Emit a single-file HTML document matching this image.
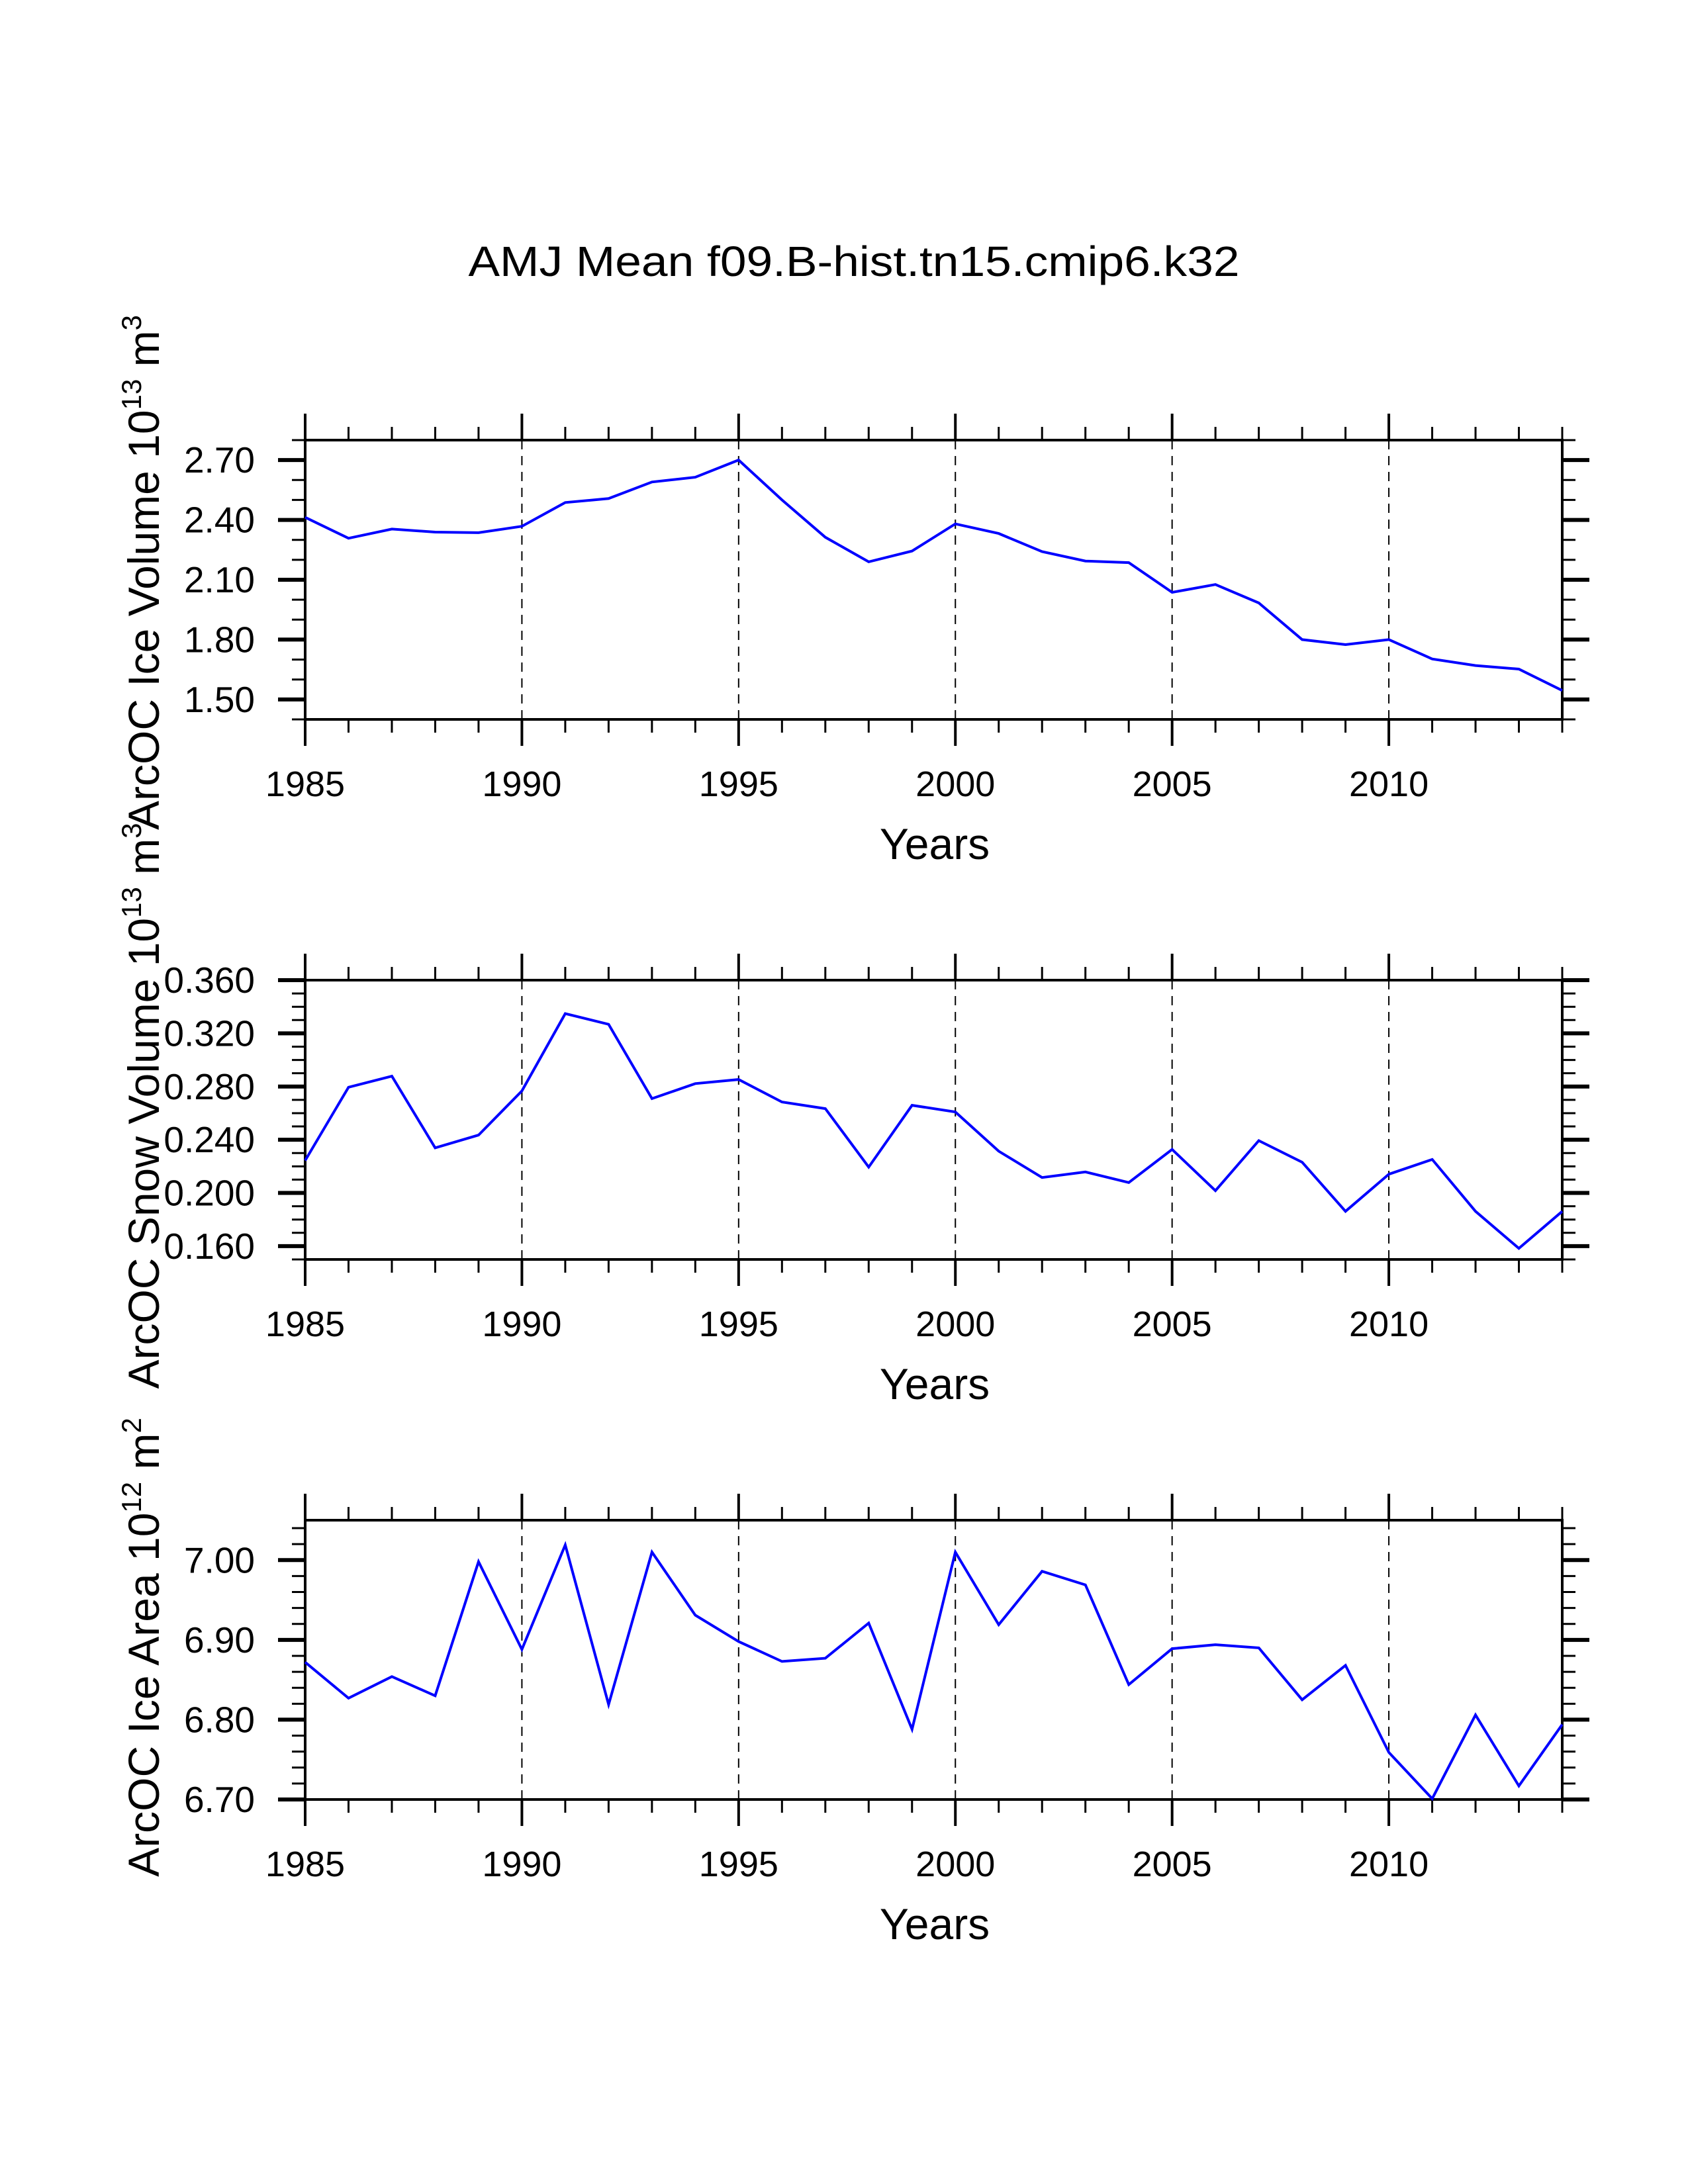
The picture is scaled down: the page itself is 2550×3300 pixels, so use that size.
<!DOCTYPE html>
<html><head><meta charset="utf-8"><style>
html,body{margin:0;padding:0;background:#fff;}
svg{display:block;}
text{font-family:"Liberation Sans",Arial,sans-serif;fill:#000;}
</style></head><body>
<svg id="chart" width="2550" height="3300" viewBox="0 0 2550 3300" xmlns="http://www.w3.org/2000/svg">
<rect width="2550" height="3300" fill="#fff"/>
<text x="1290" y="417" font-size="64" text-anchor="middle" textLength="1165" lengthAdjust="spacingAndGlyphs">AMJ Mean f09.B-hist.tn15.cmip6.k32</text>
</svg>
<script>
const years = [1985,1986,1987,1988,1989,1990,1991,1992,1993,1994,1995,1996,1997,1998,1999,2000,2001,2002,2003,2004,2005,2006,2007,2008,2009,2010,2011,2012,2013,2014];
const iceVolume = [2.413,2.308,2.354,2.339,2.336,2.368,2.487,2.507,2.590,2.614,2.700,2.500,2.313,2.190,2.244,2.380,2.332,2.241,2.194,2.186,2.037,2.076,1.984,1.800,1.775,1.800,1.703,1.670,1.652,1.545];
const snowVolume = [0.2244,0.2795,0.2878,0.2339,0.2435,0.2767,0.3348,0.3268,0.2709,0.2822,0.2853,0.2684,0.2634,0.2194,0.2659,0.2609,0.2314,0.2116,0.2158,0.2078,0.2327,0.2017,0.2393,0.2231,0.1862,0.2141,0.2252,0.1862,0.1583,0.1862];
const iceArea = [6.872,6.827,6.854,6.830,6.998,6.888,7.019,6.819,7.010,6.931,6.898,6.873,6.877,6.921,6.788,7.010,6.919,6.986,6.969,6.844,6.889,6.894,6.890,6.825,6.868,6.759,6.701,6.806,6.717,6.794];
const xTickLabels = ["1985","1990","1995","2000","2005","2010"];
const iceVolumeTicks = ["1.50","1.80","2.10","2.40","2.70"];
const snowVolumeTicks = ["0.160","0.200","0.240","0.280","0.320","0.360"];
const iceAreaTicks = ["6.70","6.80","6.90","7.00"];

const NS = "http://www.w3.org/2000/svg";
const svg = document.getElementById("chart");
const X0 = 461, X1 = 2360, PH = 422;
function mk(tag, attrs, parent){
  const e = document.createElementNS(NS, tag);
  for (const k in attrs) e.setAttribute(k, attrs[k]);
  (parent||svg).appendChild(e);
  return e;
}
const xScale = y => X0 + (y - 1985) / (2014 - 1985) * (X1 - X0);

function panel(name, top, vmin, vmax, minorStep, ticks, values, titleParts, titleCy){
  const g = mk("g", {});
  
  
  const bot = top + PH;
  const yScale = v => bot - (v - vmin) / (vmax - vmin) * PH;
  for (let yr = 1990; yr <= 2010; yr += 5) {
    const l = mk("line", {x1:xScale(yr), x2:xScale(yr), y1:top, y2:bot, stroke:"#000", "stroke-width":2, "stroke-dasharray":"14 10"}, g);
    
    
  }
  for (let yr = 1985; yr <= 2014; yr++) {
    const len = (yr % 5 === 0) ? 40 : 20;
    const w = (yr % 5 === 0) ? 4 : 3;
    mk("line", {x1:xScale(yr), x2:xScale(yr), y1:bot, y2:bot+len, stroke:"#000", "stroke-width":w}, g);
    mk("line", {x1:xScale(yr), x2:xScale(yr), y1:top, y2:top-len, stroke:"#000", "stroke-width":w}, g);
  }
  xTickLabels.forEach(s => {
    const t = mk("text", {x:xScale(+s), y:bot+116, "font-size":54, "text-anchor":"middle"}, g);
    t.textContent = s;
    
    
  });
  const n = Math.round((vmax - vmin) / minorStep);
  const majorVals = ticks.map(Number);
  for (let i = 0; i <= n; i++) {
    const v = vmin + i * minorStep;
    const isMajor = majorVals.some(m => Math.abs(m - v) < minorStep / 10);
    const len = isMajor ? 41 : 20, w = isMajor ? 6 : 3;
    mk("line", {x1:X0, x2:X0-len, y1:yScale(v), y2:yScale(v), stroke:"#000", "stroke-width":w}, g);
    mk("line", {x1:X1, x2:X1+len, y1:yScale(v), y2:yScale(v), stroke:"#000", "stroke-width":w}, g);
  }
  ticks.forEach(s => {
    const t = mk("text", {x:385, y:yScale(+s)+19, "font-size":55, "text-anchor":"end"}, g);
    t.textContent = s;
    
    
  });
  const fr = mk("rect", {x:X0, y:top, width:X1-X0, height:PH, fill:"none", stroke:"#000", "stroke-width":4}, g);
  
  
  const pts = values.map((v,i) => xScale(years[i]).toFixed(1) + "," + yScale(v).toFixed(1)).join(" ");
  const pl = mk("polyline", {points:pts, fill:"none", stroke:"#0000ff", "stroke-width":4, "stroke-linejoin":"miter"}, g);
  
  
  const xt = mk("text", {x:1412, y:bot+211, "font-size":66, "text-anchor":"middle"}, g);
  xt.textContent = "Years";
  
  
  const yt = mk("text", {x:0, y:0, "font-size":66, "text-anchor":"middle", transform:"translate(240," + titleCy + ") rotate(-90)"}, g);
  
  
  const a = mk("tspan", {}, yt); a.textContent = titleParts[0];
  const b = mk("tspan", {dy:-27, "font-size":42}, yt); b.textContent = titleParts[1];
  const c = mk("tspan", {dy:27}, yt); c.textContent = titleParts[2];
  const d = mk("tspan", {dy:-27, "font-size":42}, yt); d.textContent = titleParts[3];
}
panel("ice-volume", 665, 1.40, 2.80, 0.1, iceVolumeTicks, iceVolume, ["ArcOC Ice Volume 10","13"," m","3"], 865);
panel("snow-volume", 1481, 0.15, 0.36, 0.01, snowVolumeTicks, snowVolume, ["ArcOC Snow Volume 10","13"," m","3"], 1671);
panel("ice-area", 2297, 6.70, 7.05, 0.02, iceAreaTicks, iceArea, ["ArcOC Ice Area 10","12"," m","2"], 2489);
</script>
</body></html>
